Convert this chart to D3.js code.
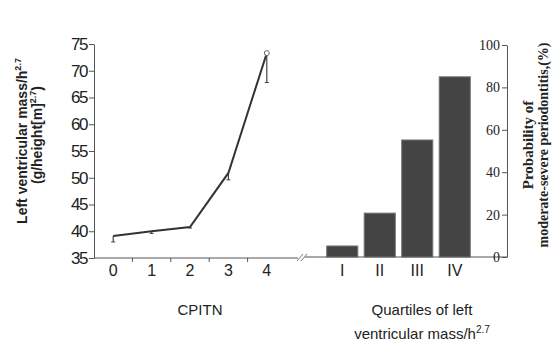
<!DOCTYPE html>
<html>
<head>
<meta charset="utf-8">
<script src="https://cdn.jsdelivr.net/npm/d3@7"></script>
<style>
  body { margin: 0; background: #fff; }
  svg { display: block; }
  .axis path, .axis line { stroke: #555; }
  .sans { font-family: "Liberation Sans", Arial, sans-serif; fill: #222; }
  .serif { font-family: "Liberation Serif", "Times New Roman", serif; fill: #222; }
</style>
</head>
<body>
<div id="chart"></div>
<script>
// CPITN line (left)
var cpitn = ["0", "1", "2", "3", "4"];
var lvMass = [39.1, 40.0, 40.8, 50.9, 73.3];
var lvLower = [38.0, 39.6, 40.6, 49.6, 67.8];
var leftTicks = [35, 40, 45, 50, 55, 60, 65, 70, 75];

// quartile bars (right)
var quartiles = ["I", "II", "III", "IV"];
var probability = [5.2, 20.7, 55.2, 85.0];
var rightTicks = [0, 20, 40, 60, 80, 100];

var width = 553, height = 344;

var svg = d3.select("#chart").append("svg")
    .attr("width", width)
    .attr("height", height);

// scales
var yL = d3.scaleLinear().domain([35, 75]).range([258, 44]);
var xL = d3.scaleBand().domain(cpitn).range([94, 286]);
var yR = d3.scaleLinear().domain([0, 100]).range([257, 45]);
var xR = d3.scaleBand().domain(quartiles).range([323.5, 473.5])
    .paddingInner(0.17).paddingOuter(0.085);

// left y axis
var leftAxis = svg.append("g")
    .attr("class", "axis")
    .attr("transform", "translate(94,0)")
    .call(d3.axisLeft(yL).tickValues(leftTicks).tickSize(5).tickSizeOuter(0));
leftAxis.selectAll("text")
    .attr("class", "sans")
    .style("font-size", "17px")
    .attr("x", -7)
    .attr("letter-spacing", "-1.5px");

// left x axis
var bottomL = svg.append("g")
    .attr("class", "axis")
    .attr("transform", "translate(0,258)")
    .call(d3.axisBottom(xL).tickSize(0).tickSizeOuter(0).tickPadding(7));
bottomL.select(".domain").attr("d", "M94,0H298");
bottomL.selectAll("text")
    .attr("class", "sans")
    .style("font-size", "16px");
// tick marks between categories
bottomL.selectAll(".sep")
    .data(cpitn.slice(1))
    .enter().append("line")
    .attr("class", "sep")
    .attr("x1", function(d) { return xL(d); })
    .attr("x2", function(d) { return xL(d); })
    .attr("y1", 0).attr("y2", 4)
    .attr("stroke", "#555");

// axis break
svg.append("g")
    .selectAll("line")
    .data([0, 4])
    .enter().append("line")
    .attr("x1", function(d) { return 297 + d; })
    .attr("x2", function(d) { return 303 + d; })
    .attr("y1", 261).attr("y2", 254)
    .attr("stroke", "#777");

// line
var line = d3.line()
    .x(function(d, i) { return xL.bandwidth() / 2 + xL(cpitn[i]); })
    .y(function(d) { return yL(d); });

svg.append("g")
    .selectAll("line")
    .data(lvMass)
    .enter().append("line")
    .attr("x1", function(d, i) { return xL(cpitn[i]) + xL.bandwidth() / 2; })
    .attr("x2", function(d, i) { return xL(cpitn[i]) + xL.bandwidth() / 2; })
    .attr("y1", function(d) { return yL(d); })
    .attr("y2", function(d, i) { return yL(lvLower[i]); })
    .attr("stroke", "#444").attr("stroke-width", 1.2);

svg.append("g")
    .selectAll("line")
    .data(lvLower)
    .enter().append("line")
    .attr("x1", function(d, i) { return xL(cpitn[i]) + xL.bandwidth() / 2 - 2; })
    .attr("x2", function(d, i) { return xL(cpitn[i]) + xL.bandwidth() / 2 + 2; })
    .attr("y1", function(d) { return yL(d); })
    .attr("y2", function(d) { return yL(d); })
    .attr("stroke", "#444");

svg.append("path")
    .datum(lvMass)
    .attr("d", line)
    .attr("fill", "none")
    .attr("stroke", "#333")
    .attr("stroke-width", 2);

svg.append("circle")
    .attr("cx", xL("4") + xL.bandwidth() / 2)
    .attr("cy", yL(lvMass[4]))
    .attr("r", 2.5)
    .attr("fill", "#fff")
    .attr("stroke", "#666");

// bars
svg.append("g")
    .selectAll("rect")
    .data(probability)
    .enter().append("rect")
    .attr("x", function(d, i) { return xR(quartiles[i]); })
    .attr("y", function(d) { return yR(d); })
    .attr("width", xR.bandwidth())
    .attr("height", function(d) { return yR(0) - yR(d); })
    .attr("fill", "#444")
    .attr("stroke", "#777")
    .attr("stroke-width", 1);

// right x axis
var bottomR = svg.append("g")
    .attr("class", "axis")
    .attr("transform", "translate(0,257)")
    .call(d3.axisBottom(xR).tickSize(0).tickSizeOuter(0).tickPadding(8));
bottomR.select(".domain").attr("d", "M305,0H507");
bottomR.selectAll("text")
    .attr("class", "sans")
    .style("font-size", "16px");

// right y axis, ticks on the inner side
var rightAxis = svg.append("g")
    .attr("class", "axis")
    .attr("transform", "translate(507,0)")
    .call(d3.axisLeft(yR).tickValues(rightTicks).tickSize(5).tickSizeOuter(0));
rightAxis.selectAll("text")
    .attr("class", "serif")
    .style("font-size", "14px")
    .attr("x", -7);

// axis titles
var lt = svg.append("text")
    .attr("class", "sans")
    .attr("transform", "translate(27,141) rotate(-90)")
    .attr("text-anchor", "middle")
    .style("font-size", "14px")
    .style("font-weight", "bold");
lt.append("tspan").text("Left ventricular mass/h");
lt.append("tspan").attr("dy", -6).style("font-size", "9px").text("2.7");

var lt2 = svg.append("text")
    .attr("class", "sans")
    .attr("transform", "translate(42,135) rotate(-90)")
    .attr("text-anchor", "middle")
    .style("font-size", "14px")
    .style("font-weight", "bold");
lt2.append("tspan").text("(g/height[m]");
lt2.append("tspan").attr("dy", -6).style("font-size", "9px").text("2.7");
lt2.append("tspan").attr("dy", 6).text(")");

svg.append("text")
    .attr("class", "serif")
    .attr("transform", "translate(533,145) rotate(-90)")
    .attr("text-anchor", "middle")
    .style("font-size", "15px")
    .style("font-weight", "bold")
    .text("Probability of");

svg.append("text")
    .attr("class", "serif")
    .attr("transform", "translate(548,145) rotate(-90)")
    .attr("text-anchor", "middle")
    .style("font-size", "14px")
    .style("font-weight", "bold")
    .text("moderate-severe periodontitis,(%)");

svg.append("text")
    .attr("class", "sans")
    .attr("x", 200).attr("y", 315)
    .attr("text-anchor", "middle")
    .style("font-size", "15px")
    .text("CPITN");

svg.append("text")
    .attr("class", "sans")
    .attr("x", 422).attr("y", 315)
    .attr("text-anchor", "middle")
    .style("font-size", "15px")
    .text("Quartiles of left");

var qt = svg.append("text")
    .attr("class", "sans")
    .attr("x", 422).attr("y", 339)
    .attr("text-anchor", "middle")
    .style("font-size", "15px");
qt.append("tspan").text("ventricular mass/h");
qt.append("tspan").attr("dy", -6).style("font-size", "10px").text("2.7");
</script>
</body>
</html>
